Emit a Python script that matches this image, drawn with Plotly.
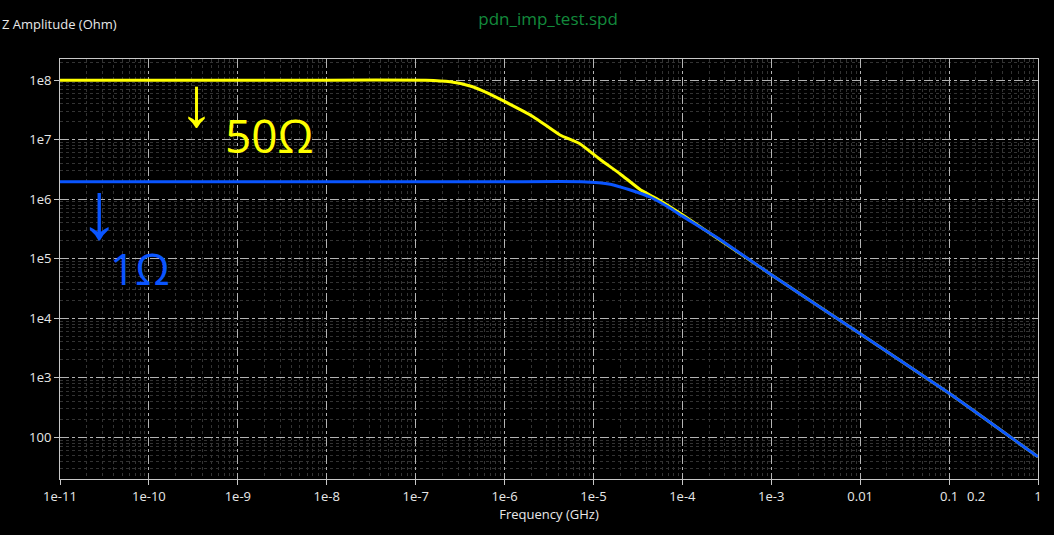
import plotly.graph_objects as go

# frequency in GHz, |Z| in Ohm
freq_50 = [1e-11, 1e-9, 1e-8, 1.3e-7, 2.45e-7, 4.1e-7, 6.3e-7, 1e-6, 2.1e-6,
           4.2e-6, 7.1e-6, 1.2e-5, 2e-5, 3.4e-5, 5e-5, 1e-4, 1e-3, 1e-2, 1e-1, 1.0]
z_50 = [1e8, 1e8, 1e8, 1e8, 9.4e7, 8.0e7, 6.2e7, 4.4e7, 2.44e7,
        1.2e7, 8.5e6, 4.6e6, 2.66e6, 1.43e6, 1.05e6, 5.5e5, 5.4e4, 5.5e3, 550, 47]

freq_1 = [1e-11, 1e-9, 1e-6, 7.4e-6, 1.55e-5, 2.6e-5, 4.4e-5, 7.3e-5,
          1e-4, 2.6e-4, 1e-3, 1e-2, 1e-1, 1.0]
z_1 = [1.97e6, 1.97e6, 1.97e6, 1.97e6, 1.79e6, 1.43e6, 1.08e6, 7.06e5,
       5.2e5, 2.14e5, 5.4e4, 5.5e3, 550, 47]

x_tickvals = [1e-11, 1e-10, 1e-9, 1e-8, 1e-7, 1e-6, 1e-5, 1e-4, 1e-3, 1e-2, 1e-1, 1]
x_ticktext = ["1e-11", "1e-10", "1e-9", "1e-8", "1e-7", "1e-6", "1e-5", "1e-4",
              "1e-3", "0.01", "0.1", "1"]
y_tickvals = [100, 1e3, 1e4, 1e5, 1e6, 1e7, 1e8]
y_ticktext = ["100", "1e3", "1e4", "1e5", "1e6", "1e7", "1e8"]

txt = "#e8e8e8"
font = "Open Sans, Noto Sans, sans-serif"

fig = go.Figure()
fig.add_trace(go.Scatter(x=freq_50, y=z_50, mode="lines", name="50 Ohm",
                         line=dict(color="#ffff00", width=3, shape="spline", smoothing=0.4)))
fig.add_trace(go.Scatter(x=freq_1, y=z_1, mode="lines", name="1 Ohm",
                         line=dict(color="#0a55ff", width=3, shape="spline", smoothing=0.4)))

axis = dict(showline=True, linecolor="#c8c8c8", linewidth=1, mirror=True,
            ticks="outside", ticklen=5, tickcolor="#c8c8c8",
            showgrid=True, gridcolor="#b4b4b4", griddash="dashdot", gridwidth=1,
            zeroline=False, tickfont=dict(color=txt, size=13, family=font),
            minor=dict(dtick="D1", showgrid=True, gridcolor="#333333",
                       griddash="dot", gridwidth=1, ticks=""))

fig.update_xaxes(type="log", range=[-11, 0], tickmode="array",
                 tickvals=x_tickvals, ticktext=x_ticktext,
                 title=dict(text="Frequency (GHz)", standoff=4,
                            font=dict(color=txt, size=13, family=font)),
                 **axis)
fig.update_yaxes(type="log", range=[1.30, 8.356], tickmode="array",
                 tickvals=y_tickvals, ticktext=y_ticktext, **axis)

fig.update_layout(
    width=1054, height=535,
    margin=dict(l=60, r=16, t=59, b=56),
    paper_bgcolor="black", plot_bgcolor="black",
    showlegend=False,
    title=dict(text="pdn_imp_test.spd", x=0.52, xanchor="center", y=0.965,
               yanchor="middle", font=dict(color="#138a3c", size=17, family=font)),
)

# extra label and notes
fig.add_annotation(text="Z Amplitude (Ohm)", xref="paper", yref="paper",
                   x=-0.061, y=1.083, xanchor="left", yanchor="middle",
                   showarrow=False, font=dict(color=txt, size=13, family=font))
fig.add_annotation(text="0.2", xref="paper", yref="paper", x=0.9366, y=-0.041,
                   xanchor="center", yanchor="middle", showarrow=False,
                   font=dict(color=txt, size=13, family=font))

notes = [("↓", 0.140, 0.905, 70, "#ffff00"), ("50Ω", 0.214, 0.819, 46, "#ffff00"),
         ("↓", 0.040, 0.648, 80, "#0a55ff"), ("1Ω", 0.082, 0.502, 44, "#0a55ff")]
for t, x, y, s, c in notes:
    fig.add_annotation(text=t, xref="paper", yref="paper", x=x, y=y,
                       xanchor="center", yanchor="middle", showarrow=False,
                       font=dict(color=c, size=s, family=font))

fig.write_html("out.html", config={"displayModeBar": False},
               post_script="document.body.style.margin='0';")
